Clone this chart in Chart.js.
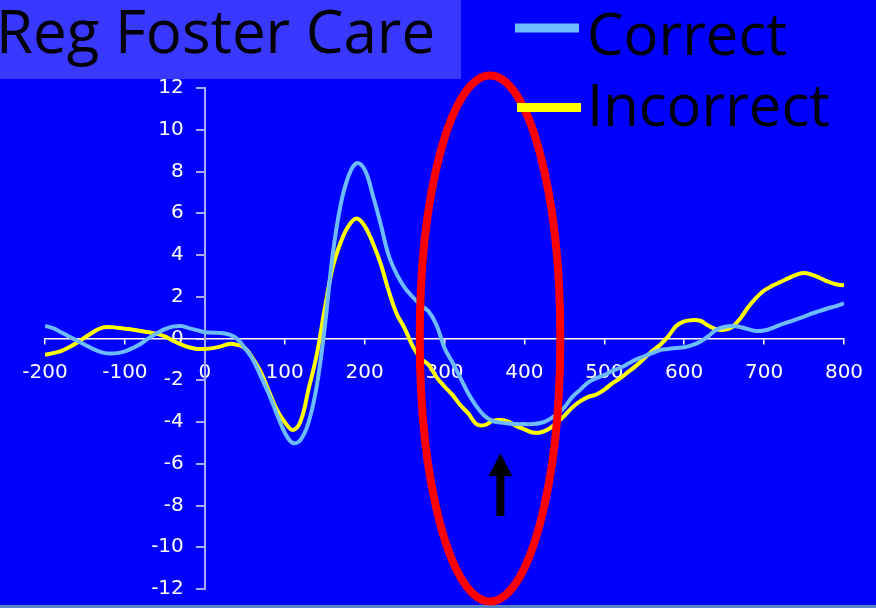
<!DOCTYPE html>
<html>
<head>
<meta charset="utf-8">
<script src="https://cdn.jsdelivr.net/npm/chart.js@4/dist/chart.umd.min.js"></script>
<style>
  html, body { margin: 0; padding: 0; background: #0000ff; }
  #wrap { position: relative; width: 876px; height: 608px; }
</style>
</head>
<body>
<div id="wrap"><canvas id="c"></canvas></div>
<script>
// ---- data ----
const chartTitle = 'Reg Foster Care';
const seriesNames = ['Correct', 'Incorrect'];
const times = [-200,-190,-180,-170,-160,-150,-140,-130,-120,-110,-100,-90,-80,-70,-60,-50,-40,-30,-20,-10,
  0,10,20,30,40,50,60,70,80,90,100,110,120,130,140,150,160,170,180,190,
  200,210,220,230,240,250,260,270,280,290,300,310,320,330,340,350,360,370,380,390,
  400,410,420,430,440,450,460,470,480,490,500,510,520,530,540,550,560,570,580,590,
  600,610,620,630,640,650,660,670,680,690,700,710,720,730,740,750,760,770,780,790,800];
const correct = [0.6,0.5,0.3,0.1,-0.1,-0.3,-0.5,-0.65,-0.72,-0.7,-0.62,-0.45,-0.25,0.02,0.25,0.45,0.57,0.6,0.5,0.4,
  0.3,0.28,0.26,0.2,0.0,-0.45,-1.0,-1.8,-2.65,-3.6,-4.5,-5.0,-4.85,-4.0,-2.3,0.5,4.0,6.4,7.8,8.4,
  8.1,6.9,5.5,4.0,3.1,2.45,2.0,1.6,1.3,0.65,-0.45,-1.15,-1.9,-2.65,-3.25,-3.7,-3.95,-4.03,-4.07,-4.1,
  -4.1,-4.1,-4.05,-3.9,-3.65,-3.3,-2.8,-2.45,-2.1,-1.9,-1.75,-1.55,-1.4,-1.2,-1.0,-0.85,-0.7,-0.55,-0.5,-0.45,
  -0.42,-0.32,-0.15,0.1,0.42,0.55,0.6,0.55,0.45,0.36,0.38,0.5,0.65,0.78,0.92,1.05,1.2,1.32,1.45,1.55,1.68];
const incorrect = [-0.78,-0.7,-0.6,-0.42,-0.2,0.05,0.3,0.5,0.55,0.52,0.47,0.42,0.36,0.3,0.22,0.1,-0.1,-0.28,-0.42,-0.5,
  -0.5,-0.46,-0.38,-0.26,-0.3,-0.45,-0.95,-1.6,-2.5,-3.4,-4.0,-4.38,-3.95,-2.4,-0.8,1.4,3.4,4.6,5.4,5.75,
  5.4,4.6,3.6,2.3,1.2,0.5,-0.35,-0.95,-1.25,-1.85,-2.3,-2.7,-3.2,-3.6,-4.1,-4.15,-3.95,-3.9,-3.98,-4.2,
  -4.35,-4.5,-4.5,-4.35,-4.05,-3.7,-3.3,-3.0,-2.8,-2.68,-2.45,-2.15,-1.9,-1.6,-1.3,-0.95,-0.6,-0.3,0.1,0.6,
  0.82,0.88,0.85,0.62,0.45,0.42,0.55,0.95,1.5,1.95,2.3,2.52,2.7,2.88,3.05,3.14,3.05,2.9,2.72,2.6,2.55];
const xTickValues = [-200,-100,0,100,200,300,400,500,600,700,800];
const yTickValues = [-12,-10,-8,-6,-4,-2,0,2,4,6,8,10,12];
// annotation: ellipse around 280-440 ms, arrow pointing up at ~370 ms
const ellipseCenter = [357, 0];
const ellipseRadii = [88, 12.6];
const arrowX = 370;
const arrowTipY = -5.5;
const arrowHeadBaseY = -6.6;
const arrowTailY = -8.5;

// ---- styles ----
const BIG_FONT = '"Comic Sans MS", "Open Sans", sans-serif';
const colors = ['#6cbcff', '#ffff00'];
const Y_LABEL_GAP = 21;
const X_LABEL_GAP = 17;

const pairs = arr => times.map((t, i) => ({ x: t, y: arr[i] }));

const decor = {
  id: 'decor',
  afterLayout(chart) {
    const tb = chart.titleBlock;
    if (tb) { tb.left = -4; tb.right = chart.width; tb.width = chart.width + 4; }
  },
  beforeDraw(chart) {
    const ctx = chart.ctx;
    ctx.save();
    ctx.fillStyle = '#0000ff';
    ctx.fillRect(0, 0, chart.width, chart.height);
    ctx.fillStyle = '#3838ff';
    ctx.fillRect(0, 0, 461, 79);
    ctx.fillStyle = '#5a82c8';
    ctx.fillRect(0, chart.height - 3, chart.width, 3);
    ctx.restore();
    // offset tick labels away from the crossing axes
    chart.scales.y.getLabelItems(chart.chartArea).forEach(it => {
      if (!it._moved) { it.options.translation[0] -= Y_LABEL_GAP; it._moved = true; }
    });
    chart.scales.x.getLabelItems(chart.chartArea).forEach(it => {
      if (!it._moved) { it.options.translation[1] += X_LABEL_GAP; it._moved = true; }
    });
  },
  afterDraw(chart) {
    const ctx = chart.ctx;
    const xs = chart.scales.x, ys = chart.scales.y;
    ctx.save();
    // red ellipse
    const cx = xs.getPixelForValue(ellipseCenter[0]);
    const cy = ys.getPixelForValue(ellipseCenter[1]);
    const rx = Math.abs(xs.getPixelForValue(ellipseCenter[0] + ellipseRadii[0]) - cx);
    const ry = Math.abs(ys.getPixelForValue(ellipseCenter[1] + ellipseRadii[1]) - cy);
    ctx.strokeStyle = '#ff0000';
    ctx.lineWidth = 8;
    ctx.beginPath();
    ctx.ellipse(cx, cy, rx, ry, 0, 0, Math.PI * 2);
    ctx.stroke();
    // black arrow
    const ax = xs.getPixelForValue(arrowX);
    const tip = ys.getPixelForValue(arrowTipY);
    const base = ys.getPixelForValue(arrowHeadBaseY);
    const tail = ys.getPixelForValue(arrowTailY);
    ctx.fillStyle = '#000000';
    ctx.fillRect(ax - 4, base - 1, 8, tail - base + 1);
    ctx.beginPath();
    ctx.moveTo(ax, tip);
    ctx.lineTo(ax + 12, base);
    ctx.lineTo(ax - 12, base);
    ctx.closePath();
    ctx.fill();
    // legend
    const rows = [{ y: 28, base: 55 }, { y: 107.5, base: 126 }];
    chart.data.datasets.forEach((ds, i) => {
      ctx.fillStyle = ds.borderColor;
      ctx.fillRect(515 + i * 2, rows[i].y - 4.5, 64, 9);
      ctx.fillStyle = '#000000';
      ctx.font = '58px ' + BIG_FONT;
      ctx.textAlign = 'left';
      ctx.textBaseline = 'alphabetic';
      ctx.fillText(ds.label, 587, rows[i].base);
    });
    ctx.restore();
  }
};

new Chart(document.getElementById('c'), {
  type: 'line',
  data: {
    datasets: [
      { label: seriesNames[0], data: pairs(correct), borderColor: colors[0], backgroundColor: colors[0],
        borderWidth: 4, pointRadius: 0, tension: 0.4, fill: false },
      { label: seriesNames[1], data: pairs(incorrect), borderColor: colors[1], backgroundColor: colors[1],
        borderWidth: 4, pointRadius: 0, tension: 0.4, fill: false }
    ]
  },
  options: {
    responsive: true,
    maintainAspectRatio: false,
    animation: false,
    events: [],
    layout: { padding: { left: 45, right: 32, top: 0, bottom: 19 } },
    plugins: {
      legend: { display: false },
      tooltip: { enabled: false },
      title: {
        display: true,
        text: chartTitle,
        align: 'start',
        color: '#000000',
        font: { family: BIG_FONT, size: 60, weight: 'normal', lineHeight: 1.2 },
        padding: { top: 0, bottom: 16 }
      }
    },
    scales: {
      x: {
        type: 'linear',
        position: { y: 0 },
        min: -200, max: 800,
        afterBuildTicks: s => { s.ticks = xTickValues.map(v => ({ value: v })); },
        ticks: { color: '#ffffff', font: { family: 'DejaVu Sans', size: 20 }, padding: 0, maxRotation: 0, autoSkip: false },
        grid: { drawOnChartArea: false, color: '#ffffff', tickLength: 5, lineWidth: 1.5 },
        border: { color: '#ffffff', width: 1.5 }
      },
      y: {
        type: 'linear',
        position: { x: 0 },
        min: -12, max: 12,
        afterBuildTicks: s => { s.ticks = yTickValues.map(v => ({ value: v })); },
        ticks: { color: '#ffffff', font: { family: 'DejaVu Sans', size: 20 }, padding: 0, autoSkip: false },
        grid: { drawOnChartArea: false, color: '#a8a8ff', tickLength: 8, lineWidth: 2 },
        border: { color: '#a8a8ff', width: 2 }
      }
    }
  },
  plugins: [decor]
});
</script>
</body>
</html>
